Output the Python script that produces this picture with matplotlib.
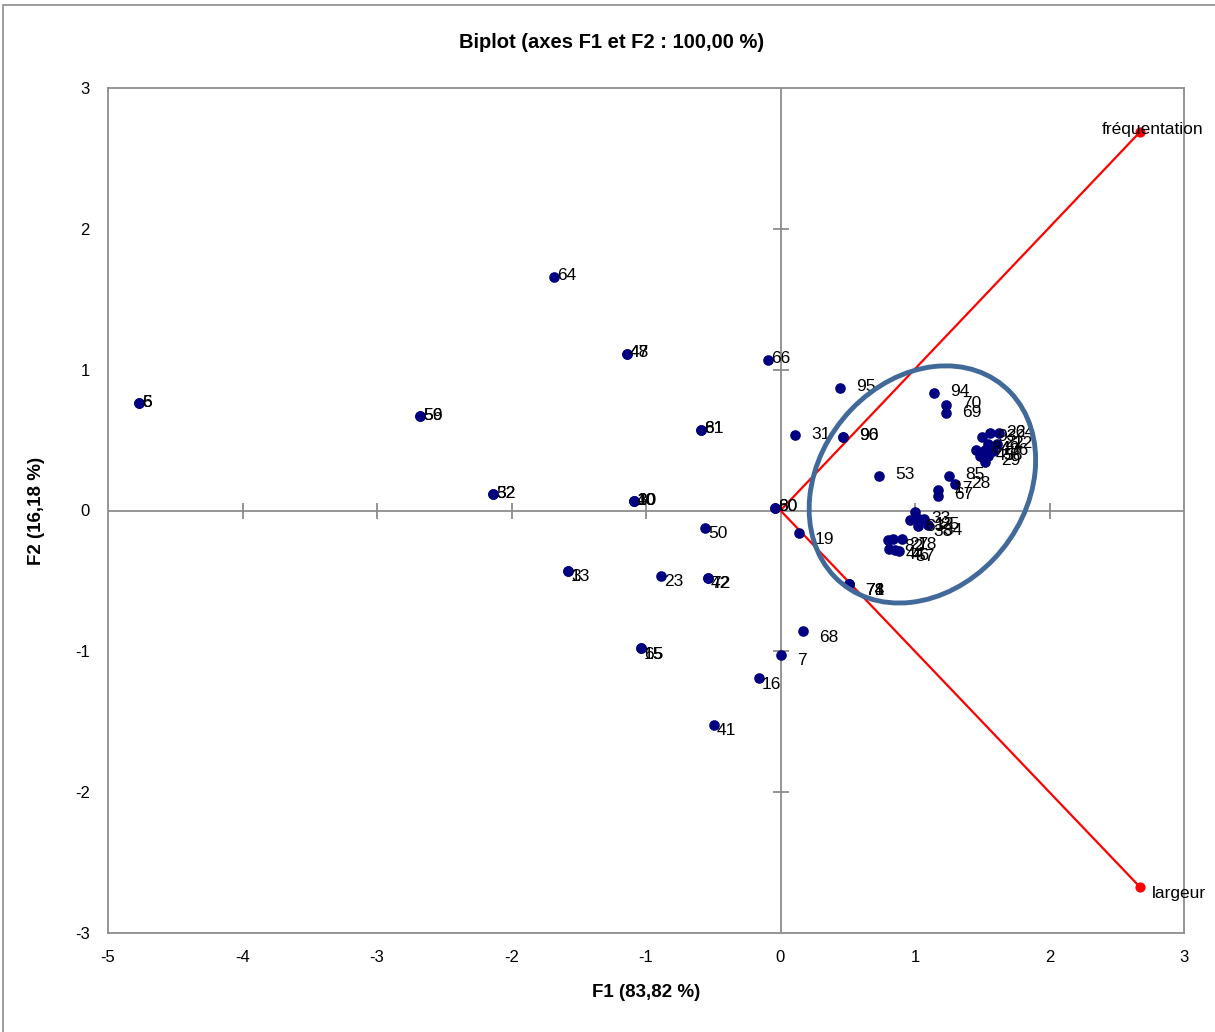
import matplotlib
matplotlib.use("Agg")
import matplotlib.pyplot as plt
from matplotlib.patches import Ellipse, Rectangle

plt.rcParams['font.family'] = ['Liberation Sans', 'DejaVu Sans']
plt.rcParams['axes.unicode_minus'] = False

# Observations (F1, F2) and their labels
obs_labels = ["5", "6", "56", "59", "64", "47", "48", "66", "95", "61", "81", "31",
              "90", "96", "32", "52", "10", "30", "40", "60", "80", "50", "13", "3",
              "23", "42", "72", "15", "65", "7", "16", "41", "68", "19", "71", "74",
              "78", "53", "94", "70", "69", "85", "28", "17", "67",
              "93", "26", "24", "21", "22", "84", "49", "86", "45", "58", "29",
              "33", "63", "12", "25", "38", "34",
              "82", "27", "18", "44", "46", "57"]
obs_f1 = [-4.770, -4.770, -2.680, -2.680, -1.684, -1.141, -1.141, -0.093, 0.442, -0.591, -0.591, 0.108,
          0.465, 0.465, -2.138, -2.138, -1.089, -1.089, -1.089, -0.041, -0.041, -0.561, -1.580, -1.580,
          -0.888, -0.539, -0.539, -1.037, -1.037, 0.004, -0.160, -0.494, 0.167, 0.138, 0.509, 0.509,
          0.509, 0.732, 1.141, 1.230, 1.230, 1.253, 1.297, 1.171, 1.171,
          1.495, 1.560, 1.625, 1.540, 1.610, 1.450, 1.520, 1.580, 1.480, 1.540, 1.520,
          1.000, 0.960, 1.030, 1.070, 1.020, 1.095,
          0.800, 0.840, 0.900, 0.810, 0.850, 0.880]
obs_f2 = [0.763, 0.763, 0.671, 0.671, 1.658, 1.112, 1.112, 1.069, 0.870, 0.572, 0.572, 0.536,
          0.522, 0.522, 0.117, 0.117, 0.067, 0.067, 0.067, 0.018, 0.018, -0.124, -0.429, -0.429,
          -0.465, -0.479, -0.479, -0.977, -0.977, -1.026, -1.190, -1.523, -0.856, -0.160, -0.522, -0.522,
          -0.522, 0.245, 0.835, 0.750, 0.690, 0.245, 0.188, 0.146, 0.103,
          0.520, 0.550, 0.550, 0.475, 0.470, 0.430, 0.430, 0.420, 0.385, 0.385, 0.345,
          -0.011, -0.070, -0.060, -0.060, -0.110, -0.100,
          -0.210, -0.200, -0.200, -0.270, -0.280, -0.285]

# Variables (vectors)
var_labels = ["fréquentation", "largeur"]
var_f1 = [2.673, 2.673]
var_f2 = [2.688, -2.674]

title = "Biplot (axes F1 et F2 : 100,00 %)"
xlabel = "F1 (83,82 %)"
ylabel = "F2 (16,18 %)"
xticks = [-5, -4, -3, -2, -1, 0, 1, 2, 3]
yticks = [-3, -2, -1, 0, 1, 2, 3]

fig = plt.figure(figsize=(12.15, 10.32), dpi=100)
ax = fig.add_axes([108/1215, 1 - 933/1032, (1184-108)/1215, (933-88)/1032])

# outer chart border
fig.patches.append(Rectangle((3/1215, -0.1), 1.2, 1 - 5/1032 + 0.1, transform=fig.transFigure,
                             fill=False, edgecolor='#8c8c8c', linewidth=1.2))

ax.set_xlim(-5, 3)
ax.set_ylim(-3, 3)
ax.set_xticks(xticks)
ax.set_yticks(yticks)
ax.tick_params(length=0, labelsize=12, pad=13)
ax.tick_params(axis='x', pad=12)
for s in ax.spines.values():
    s.set_color('#8c8c8c')
    s.set_linewidth(1.3)

gray = '#8c8c8c'
ax.axhline(0, color=gray, lw=1.3, zorder=1)
ax.axvline(0, color=gray, lw=1.3, zorder=1)
inner_x = [t for t in xticks if t not in (xticks[0], xticks[-1], 0)]
inner_y = [t for t in yticks if t not in (yticks[0], yticks[-1], 0)]
ax.plot(inner_x, [0]*len(inner_x), ls='none', marker='|', ms=11, mew=1.3, color=gray, zorder=1)
ax.plot([0]*len(inner_y), inner_y, ls='none', marker='_', ms=11, mew=1.3, color=gray, zorder=1)

# vectors
for vx, vy in zip(var_f1, var_f2):
    ax.plot([0, vx], [0, vy], color='red', lw=1.6, zorder=2)
ax.scatter(var_f1, var_f2, s=40, color='red', zorder=3)
ax.annotate(var_labels[0], (var_f1[0], var_f2[0]), xytext=(13, 2), textcoords='offset pixels',
            ha='center', va='center', fontsize=12.5)
ax.annotate(var_labels[1], (var_f1[1], var_f2[1]), xytext=(12, -6), textcoords='offset pixels',
            ha='left', va='center', fontsize=12.5)

# observations
ax.scatter(obs_f1, obs_f2, s=44, color='#000080', zorder=4)
for lab, x, y in zip(obs_labels, obs_f1, obs_f2):
    dx = 16 if x >= 0 else 3
    dy = -6 if y < 0 else 1
    ax.annotate(lab, (x, y), xytext=(dx, dy), textcoords='offset pixels',
                ha='left', va='center', fontsize=12.5, zorder=5)

# highlight ellipse
ax.add_patch(Ellipse((1.055, 0.185), 1.85, 1.50, angle=45, fill=False,
                     edgecolor='#41699a', linewidth=3.5, zorder=6))

ax.set_xlabel(xlabel, fontsize=13.5, fontweight='bold', labelpad=14)
ax.set_ylabel(ylabel, fontsize=13.5, fontweight='bold', labelpad=22)
fig.text(612/1215, 1 - 42/1032, title, ha='center', va='center', fontsize=14.5, fontweight='bold')

fig.savefig("out.png", dpi=100)
